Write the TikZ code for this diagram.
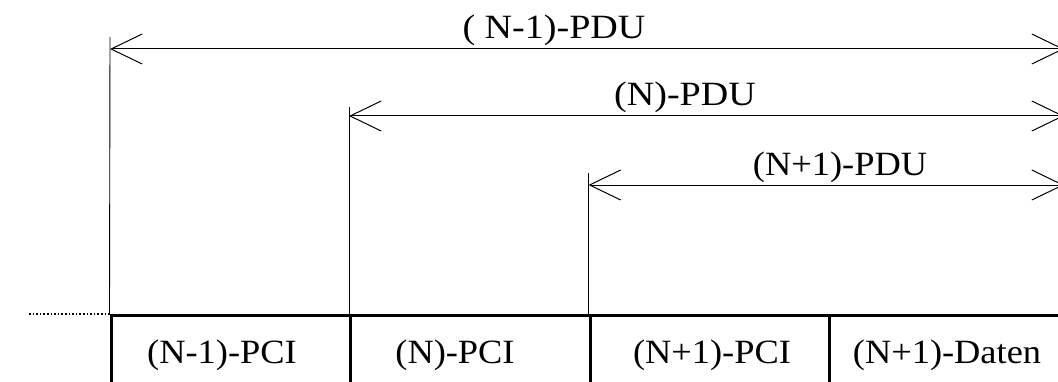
\documentclass[tikz,border=0pt]{standalone}
\usepackage{fontspec}
\setmainfont{Liberation Serif}
\usetikzlibrary{arrows.meta}
\newcommand{\lab}[1]{\scalebox{1.07}[1]{#1}}
\newcommand{\labw}[1]{\scalebox{1.12}[1]{#1}}
\begin{document}
\begin{tikzpicture}[x=1pt,y=1pt,
  lbl/.style={font=\fontsize{34}{40}\selectfont, inner sep=0pt, anchor=base},
  pdu/.style={line width=1pt, {Straight Barb[length=31pt,width=30pt,line width=1pt]}-{Straight Barb[length=31pt,width=30pt,line width=1pt]}},
  thin/.style={line width=0.9pt},
  cell/.style={draw, line width=3pt, minimum width=239.5pt, minimum height=120pt, anchor=north west, inner sep=0pt}]
\useasboundingbox (0,0) rectangle (1058,381);
% cells
\node[cell] (c1) at (109.5,67) {};
\node[cell] (c2) at (349,67) {};
\node[cell] (c3) at (588.5,67) {};
\node[cell] (c4) at (828,67) {};
% cell texts
\node[lbl] (t1) at (222,18) {\lab{(N-1)-PCI}};
\node[lbl] (t2) at (455,18) {\lab{(N)-PCI}};
\node[lbl] (t3) at (712,18) {\lab{(N+1)-PCI}};
\node[lbl] (t4) at (947,18) {\lab{(N+1)-Daten}};
% dotted lead-in
\coordinate (dot) at (29,67);
\draw[line width=1.6pt, dotted] (dot) -- (c1.north west);
% arrow end points
\coordinate (a1l) at (110,332);
\coordinate (a1r) at (1064,332);
\coordinate (a2l) at (349,265);
\coordinate (a2r) at (1064,265);
\coordinate (a3l) at (588.5,196);
\coordinate (a3r) at (1064,196);
\coordinate (v1) at (110,344);
\coordinate (v2) at (349,274);
\coordinate (v3) at (588.5,208);
% vertical guides
\draw[thin] (v1) -- (c1.north west);
\draw[thin] (v2) -- (c2.north west);
\draw[thin] (v3) -- (c3.north west);
% PDU arrows
\draw[pdu] (a1l) -- (a1r);
\draw[pdu] (a2l) -- (a2r);
\draw[pdu] (a3l) -- (a3r);
% PDU labels
\node[lbl] (p1) at (554,342) {\labw{( N-1)-PDU}};
\node[lbl] (p2) at (685,275) {\labw{(N)-PDU}};
\node[lbl] (p3) at (840,206) {\lab{(N+1)-PDU}};
\end{tikzpicture}
\end{document}
